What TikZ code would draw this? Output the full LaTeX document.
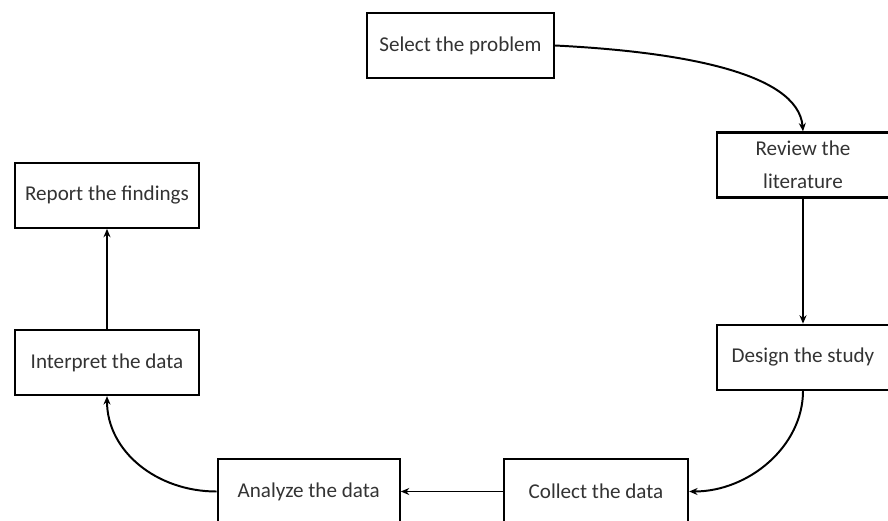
\documentclass[tikz,border=0pt]{standalone}
\usepackage{fontspec}
\setmainfont{Carlito}
\usetikzlibrary{positioning, arrows.meta}

\begin{document}
\begin{tikzpicture}[x=0.025cm, y=-0.025cm,
    stage/.style={draw, line width=1.6pt, text=black!80, minimum height=1.625cm, inner sep=2pt, align=center, font=\fontsize{15}{23.5}\selectfont},
    flow/.style={-{Stealth[length=6pt, width=5pt]}, line width=1.4pt}]
    \useasboundingbox (0,0) rectangle (888,520);
    \node (Select) [stage, minimum width=4.675cm] at (460.5,45.5) {Select the problem};
    \node (Review) [stage, minimum width=4.3cm] at (803,165) {Review the\\literature};
    \node (Design) [stage, minimum width=4.3cm, below=3.125cm of Review] {Design the study};
    \node (Collect) [stage, minimum width=4.6cm] at (596,491.5) {Collect the data};
    \node (Analyze) [stage, minimum width=4.55cm, left=2.55cm of Collect] {Analyze the data};
    \node (Interpret) [stage, minimum width=4.6cm] at (107,362.5) {Interpret the data};
    \node (Report) [stage, minimum width=4.6cm, above=2.5cm of Interpret] {Report the findings};
    \draw [flow] (Select.east) .. controls +(120,6) and +(-5,-60) .. (Review.north);
    \draw [flow] (Review) -- (Design);
    \draw [flow] (Design.south) .. controls +(0,55) and +(60,0) .. (Collect.east);
    \draw [flow] (Collect) -- (Analyze);
    \draw [flow] (Analyze.west) .. controls +(-60,0) and +(0,55) .. (Interpret.south);
    \draw [flow] (Interpret) -- (Report);
\end{tikzpicture}
\end{document}
